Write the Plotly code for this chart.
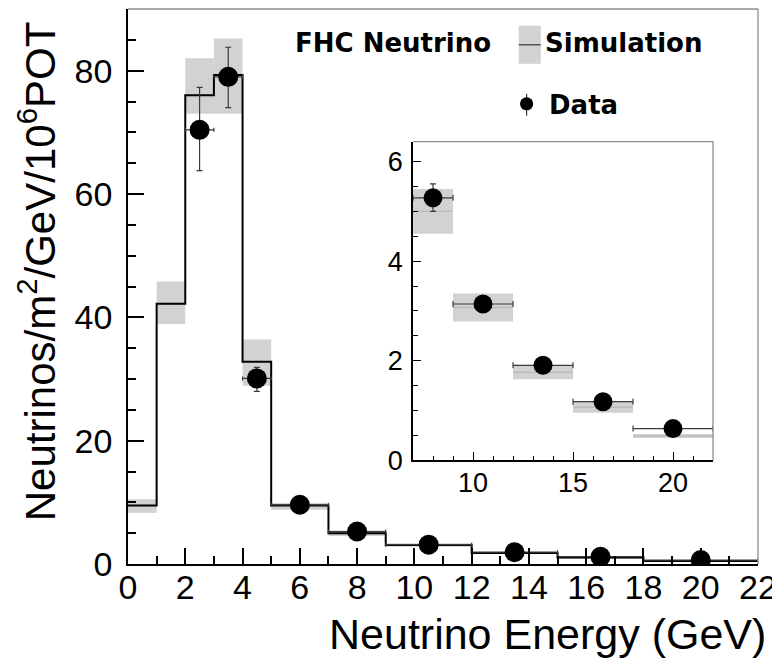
import plotly.graph_objects as go

# ---------------- data ----------------
bin_edges = [0, 1, 2, 3, 4, 5, 7, 9, 12, 15, 18, 22]
sim_values = [9.5, 42.2, 76.0, 79.3, 32.8, 9.5, 5.0, 3.07, 1.77, 1.07, 0.49]
sim_low = [8.3, 38.9, 73.0, 73.0, 28.9, 8.8, 4.55, 2.79, 1.63, 0.96, 0.45]
sim_high = [10.5, 45.8, 82.0, 85.2, 36.4, 9.9, 5.45, 3.35, 1.91, 1.18, 0.53]

data_x = [2.5, 3.5, 4.5, 6, 8, 10.5, 13.5, 16.5, 20]
data_xerr = [0.5, 0.5, 0.5, 1, 1, 1.5, 1.5, 1.5, 2]
data_y = [70.4, 79.0, 30.1, 9.6, 5.27, 3.14, 1.91, 1.18, 0.64]
data_err_hi = [6.9, 4.8, 1.8, 0.4, 0.28, 0.1, 0.07, 0.05, 0.04]
data_err_lo = [6.6, 5.0, 2.1, 0.4, 0.27, 0.1, 0.07, 0.05, 0.04]

main_xticks = [0, 2, 4, 6, 8, 10, 12, 14, 16, 18, 20, 22]
main_yticks = [0, 20, 40, 60, 80]
inset_xticks = [10, 15, 20]
inset_yticks = [0, 2, 4, 6]
inset_xmin = 7

# derived
centers = [(a + b) / 2 for a, b in zip(bin_edges[:-1], bin_edges[1:])]
widths = [b - a for a, b in zip(bin_edges[:-1], bin_edges[1:])]
band_h = [h - l for h, l in zip(sim_high, sim_low)]
step_y = sim_values + [sim_values[-1]]

FONT = "Liberation Sans, Arial, Helvetica, sans-serif"
LEGFONT = "DejaVu Sans, Liberation Sans, sans-serif"
BAND = "#d2d2d2"
ERR = "#3a3a3a"

fig = go.Figure()

# ---- main panel ----
fig.add_trace(go.Bar(x=centers, y=band_h, base=sim_low, width=widths,
                     marker=dict(color=BAND, line=dict(width=0)),
                     xaxis="x", yaxis="y", showlegend=False, hoverinfo="skip"))
fig.add_trace(go.Scatter(x=bin_edges, y=step_y, mode="lines",
                         line=dict(color="black", width=2, shape="hv"),
                         xaxis="x", yaxis="y", showlegend=False))
fig.add_trace(go.Scatter(x=data_x, y=data_y, mode="markers",
                         marker=dict(color="black", size=20),
                         error_x=dict(type="data", array=data_xerr, color=ERR, thickness=1.2, width=2),
                         error_y=dict(type="data", array=data_err_hi, arrayminus=data_err_lo,
                                      color=ERR, thickness=1.2, width=3),
                         xaxis="x", yaxis="y", showlegend=False))

# ---- inset panel ----
sel = [i for i, c in enumerate(centers) if c > inset_xmin]
fig.add_trace(go.Bar(x=[centers[i] for i in sel], y=[band_h[i] for i in sel],
                     base=[sim_low[i] for i in sel], width=[widths[i] for i in sel],
                     marker=dict(color=BAND, line=dict(width=0)),
                     xaxis="x2", yaxis="y2", showlegend=False, hoverinfo="skip"))
seg_x, seg_y = [], []
for i in sel:
    seg_x += [bin_edges[i], bin_edges[i + 1], None]
    seg_y += [sim_values[i], sim_values[i], None]
fig.add_trace(go.Scatter(x=seg_x, y=seg_y, mode="lines",
                         line=dict(color="#bcbcbc", width=1.5),
                         xaxis="x2", yaxis="y2", showlegend=False))
dsel = [i for i, x in enumerate(data_x) if x > inset_xmin]
fig.add_trace(go.Scatter(x=[data_x[i] for i in dsel], y=[data_y[i] for i in dsel], mode="markers",
                         marker=dict(color="black", size=19),
                         error_x=dict(type="data", array=[data_xerr[i] for i in dsel], color=ERR,
                                      thickness=1.2, width=3),
                         error_y=dict(type="data", array=[data_err_hi[i] for i in dsel],
                                      arrayminus=[data_err_lo[i] for i in dsel],
                                      color=ERR, thickness=1.2, width=3),
                         xaxis="x2", yaxis="y2", showlegend=False))

fig.update_layout(
    width=772, height=655,
    margin=dict(l=120, r=22, t=1, b=99),
    paper_bgcolor="white", plot_bgcolor="white",
    barmode="overlay",
    font=dict(family=FONT, color="black"),
    xaxis=dict(showline=True, linecolor="black", linewidth=1.5, showgrid=False, zeroline=False,
               tickfont=dict(family=FONT, size=34, color="black"),
               domain=[0, 1], range=[0, 22], tickmode="array", tickvals=main_xticks,
               ticks="inside", ticklen=16, tickwidth=1.5, tickcolor="black",
               ticklabelstandoff=-8, anchor="y",
               minor=dict(dtick=1, ticklen=8, ticks="inside", tickcolor="black", tickwidth=1.5)),
    yaxis=dict(showline=True, linecolor="black", linewidth=1.5, showgrid=False, zeroline=False,
               tickfont=dict(family=FONT, size=34, color="black"),
               domain=[0, 1], range=[0, 90], tickmode="array", tickvals=main_yticks,
               ticks="inside", ticklen=16, tickwidth=1.5, tickcolor="black",
               ticklabelstandoff=7, anchor="x",
               minor=dict(dtick=5, ticklen=8, ticks="inside", tickcolor="black", tickwidth=1.5)),
    xaxis2=dict(showline=True, linecolor="black", linewidth=1.5, showgrid=False, zeroline=False,
                tickfont=dict(family=FONT, size=27, color="black"),
                domain=[0.4524, 0.9286], range=[7, 22], tickmode="array", tickvals=inset_xticks,
                ticks="inside", ticklen=9, tickwidth=1.2, tickcolor="black",
                ticklabelstandoff=-3, anchor="y2",
                minor=dict(dtick=1, ticklen=5, ticks="inside", tickcolor="black", tickwidth=1.2)),
    yaxis2=dict(showline=True, linecolor="black", linewidth=1.5, showgrid=False, zeroline=False,
                tickfont=dict(family=FONT, size=27, color="black"),
                domain=[0.1865, 0.7612], range=[0, 6.4], tickmode="array", tickvals=inset_yticks,
                ticks="inside", ticklen=8, tickwidth=1.2, tickcolor="black",
                ticklabelstandoff=3, anchor="x2",
                minor=dict(dtick=0.5, ticklen=5, ticks="inside", tickcolor="black", tickwidth=1.2)),
)

# frame lines (top/right, grey) for main and inset
for xr, yr in [("x domain", "y domain"), ("x2 domain", "y2 domain")]:
    fig.add_shape(type="line", xref=xr, yref=yr, x0=0, x1=1, y0=1, y1=1,
                  line=dict(color="#8c8c8c", width=1.3))
    fig.add_shape(type="line", xref=xr, yref=yr, x0=1, x1=1, y0=0, y1=1,
                  line=dict(color="#8c8c8c", width=1.3))

# axis titles
fig.add_annotation(text="Neutrinos/m<sup>2</sup>/GeV/10<sup>6</sup>POT", xref="paper", yref="paper",
                   x=-0.144, y=0.528, xanchor="center", yanchor="middle", textangle=-90,
                   showarrow=False, font=dict(family=FONT, size=42, color="black"))
fig.add_annotation(text="Neutrino Energy (GeV)", xref="paper", yref="paper",
                   x=1.0154, y=-0.127, xanchor="right", yanchor="middle",
                   showarrow=False, font=dict(family=FONT, size=43, color="black"))

# legend
LEG = dict(family=LEGFONT, size=26, color="black")
fig.add_annotation(text="<b>FHC Neutrino</b>", xref="paper", yref="paper", x=0.2614, y=0.9392,
                   xanchor="left", yanchor="middle", showarrow=False, font=LEG)
fig.add_annotation(text="<b>Simulation</b>", xref="paper", yref="paper", x=0.6583, y=0.9392,
                   xanchor="left", yanchor="middle", showarrow=False, font=LEG)
fig.add_annotation(text="<b>Data</b>", xref="paper", yref="paper", x=0.6646, y=0.8274,
                   xanchor="left", yanchor="middle", showarrow=False, font=LEG)
fig.add_shape(type="rect", xref="paper", yref="paper", x0=0.6202, x1=0.6552, y0=0.9013, y1=0.9699,
              fillcolor=BAND, line=dict(width=0))
fig.add_shape(type="line", xref="paper", yref="paper", x0=0.6202, x1=0.6552, y0=0.9356, y1=0.9356,
              line=dict(color="#555555", width=1.5))
fig.add_shape(type="line", xref="paper", yref="paper", x0=0.6327, x1=0.6327, y0=0.8075, y1=0.8472,
              line=dict(color=ERR, width=1.2))
fig.add_shape(type="circle", xref="paper", yref="paper", x0=0.6327 - 0.0105, x1=0.6327 + 0.0105,
              y0=0.8292 - 0.0118, y1=0.8292 + 0.0118, fillcolor="black", line=dict(width=0))

fig.write_html("out.html")
